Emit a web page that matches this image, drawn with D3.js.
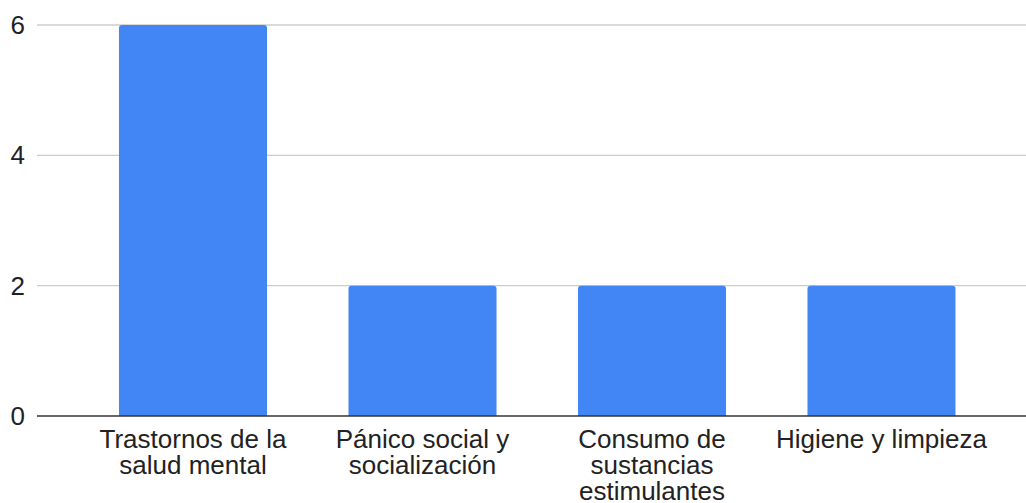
<!DOCTYPE html>
<html>
<head>
<meta charset="utf-8">
<script src="https://cdn.jsdelivr.net/npm/d3@7"></script>
<style>
  html, body { margin: 0; padding: 0; background: #fff; }
  svg { display: block; font-family: Arial, "Liberation Sans", sans-serif; }
</style>
</head>
<body>
<svg id="chart" width="1026" height="503"></svg>
<script>
const categories = ["Trastornos de la salud mental", "Pánico social y socialización", "Consumo de sustancias estimulantes", "Higiene y limpieza"];
const values = [6, 2, 2, 2];
const yTicks = [0, 2, 4, 6];

const svg = d3.select("#chart");
const W = 1026, H = 503;
const plot = { left: 37, right: 1026, top: 25, bottom: 416 };

const x = d3.scaleBand()
  .domain(categories)
  .range([78.25, 996.25])
  .paddingInner(0.355)
  .paddingOuter(0.1775);

const y = d3.scaleLinear().domain([0, 6]).range([plot.bottom, plot.top]);

// gridlines
svg.append("g")
  .selectAll("line")
  .data(yTicks.filter(d => d !== 0))
  .join("line")
  .attr("x1", plot.left).attr("x2", plot.right)
  .attr("y1", d => y(d)).attr("y2", d => y(d))
  .attr("stroke", "#cccccc").attr("stroke-width", 1.3);

// y tick labels
svg.append("g")
  .selectAll("text")
  .data(yTicks)
  .join("text")
  .attr("x", 25).attr("y", d => y(d))
  .attr("dy", "0.35em")
  .attr("text-anchor", "end")
  .attr("font-size", 26)
  .attr("fill", "#222")
  .text(d => d);

// bars with rounded top corners
const r = 3;
svg.append("g")
  .selectAll("path")
  .data(categories.map((c, i) => ({ c, v: values[i] })))
  .join("path")
  .attr("fill", "#4285f4")
  .attr("d", d => {
    const x0 = x(d.c), x1 = x0 + x.bandwidth();
    const yt = y(d.v), yb = y(0);
    return `M${x0},${yb} L${x0},${yt + r} Q${x0},${yt} ${x0 + r},${yt} L${x1 - r},${yt} Q${x1},${yt} ${x1},${yt + r} L${x1},${yb} Z`;
  });

// baseline
svg.append("line")
  .attr("x1", plot.left).attr("x2", plot.right)
  .attr("y1", y(0)).attr("y2", y(0))
  .attr("stroke", "#333333").attr("stroke-width", 1.6);

// category labels with wrapping
const labels = svg.append("g")
  .selectAll("text")
  .data(categories)
  .join("text")
  .attr("text-anchor", "middle")
  .attr("font-size", 26)
  .attr("fill", "#222");

labels.each(function(d) {
  const t = d3.select(this);
  const cx = x(d) + x.bandwidth() / 2;
  const words = d.split(" ");
  const maxW = x.step() - 6;
  let lines = [], line = [];
  const probe = t.append("tspan");
  words.forEach(w => {
    const test = line.concat([w]).join(" ");
    probe.text(test);
    if (probe.node().getComputedTextLength() > maxW && line.length) {
      lines.push(line.join(" "));
      line = [w];
    } else {
      line.push(w);
    }
  });
  if (line.length) lines.push(line.join(" "));
  probe.remove();
  lines.forEach((ln, i) => {
    t.append("tspan").attr("x", cx).attr("y", 448 + i * 26).text(ln);
  });
});
</script>
</body>
</html>
